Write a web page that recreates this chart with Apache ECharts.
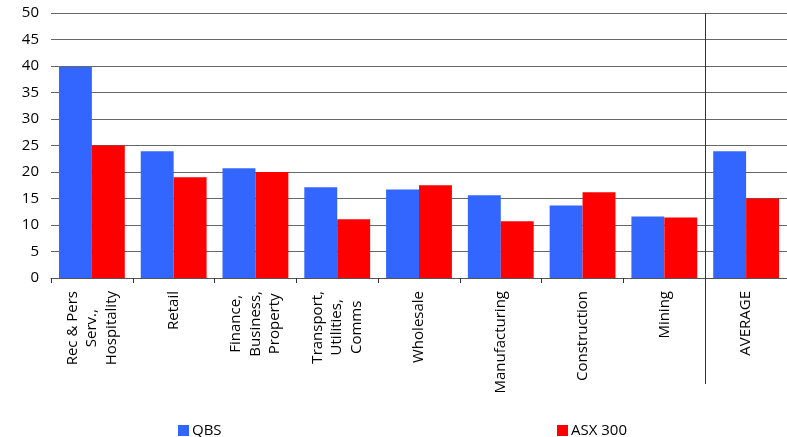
<!DOCTYPE html>
<html>
<head>
<meta charset="utf-8">
<script src="https://cdn.jsdelivr.net/npm/echarts@6/dist/echarts.min.js"></script>
<style>
  html, body { margin: 0; padding: 0; background: #fff; }
  #chart { width: 787px; height: 437px; }
</style>
</head>
<body>
<div id="chart"></div>
<script>
// Industry categories (multi-line labels)
const categories = [
  ['Rec & Pers', 'Serv.,', 'Hospitality'],
  ['Retail'],
  ['Finance,', 'Business,', 'Property'],
  ['Transport,', 'Utilities,', 'Comms'],
  ['Wholesale'],
  ['Manufacturing'],
  ['Construction'],
  ['Mining'],
  ['AVERAGE']
];
const qbsValues = [39.8, 23.9, 20.7, 17.1, 16.7, 15.6, 13.7, 11.6, 23.9];
const asxValues = [25.0, 19.0, 20.0, 11.1, 17.5, 10.7, 16.2, 11.4, 15.0];
const yTicks = { min: 0, max: 50, interval: 5 };

const FONT = '"Open Sans", sans-serif';
const chart = echarts.init(document.getElementById('chart'));

const catNames = categories.map(lines => lines.join('\n'));

chart.setOption({
  animation: false,
  backgroundColor: '#ffffff',
  grid: { left: 51, right: 0, top: 13, bottom: 159, containLabel: false },
  legend: [
    {
      data: ['QBS'], left: 173, top: 418, itemWidth: 11, itemHeight: 11, itemGap: 3,
      icon: 'rect', textStyle: { fontFamily: FONT, fontSize: 15, color: '#000', padding: [0, 0, 0, -2] }
    },
    {
      data: ['ASX 300'], left: 552, top: 418, itemWidth: 11, itemHeight: 11, itemGap: 3,
      icon: 'rect', textStyle: { fontFamily: FONT, fontSize: 15, color: '#000', padding: [0, 0, 0, -2] }
    }
  ],
  xAxis: {
    type: 'category',
    data: catNames,
    axisLine: { show: true, lineStyle: { color: '#555', width: 1 } },
    axisTick: { show: true, length: 5, lineStyle: { color: '#333' } },
    axisLabel: {
      rotate: 90,
      margin: 13,
      interval: 0,
      color: '#000',
      fontFamily: FONT,
      fontSize: 15,
      lineHeight: 19.5,
      formatter: v => v.split('\n').map(l => '{c|' + l + '}').join('\n'),
      rich: { c: { align: 'center', fontFamily: FONT, fontSize: 15, lineHeight: 19.5, color: '#000' } }
    }
  },
  yAxis: {
    type: 'value',
    min: yTicks.min, max: yTicks.max, interval: yTicks.interval,
    axisLine: { show: false },
    axisTick: { show: false },
    axisLabel: { color: '#000', fontFamily: FONT, fontSize: 15, margin: 12 },
    splitLine: { show: true, lineStyle: { color: '#666', width: 1 } }
  },
  series: [
    {
      name: 'QBS', type: 'bar', data: qbsValues,
      itemStyle: { color: '#3366FF' },
      barGap: '0%', barCategoryGap: '19.5%'
    },
    {
      name: 'ASX 300', type: 'bar', data: asxValues,
      itemStyle: { color: '#FF0000' },
      barGap: '0%', barCategoryGap: '19.5%'
    }
  ]
});

// Vertical divider separating the industries from the average
function drawDivider() {
  const a = chart.convertToPixel({ xAxisIndex: 0 }, catNames.length - 2);
  const b = chart.convertToPixel({ xAxisIndex: 0 }, catNames.length - 1);
  const top = chart.convertToPixel({ yAxisIndex: 0 }, yTicks.max);
  const x = Math.round((a + b) / 2) + 0.5;
  chart.setOption({
    graphic: [{
      type: 'line', z: 100,
      shape: { x1: x, y1: top, x2: x, y2: 384 },
      style: { stroke: '#333', lineWidth: 1 }
    }]
  });
}
drawDivider();
</script>
</body>
</html>
